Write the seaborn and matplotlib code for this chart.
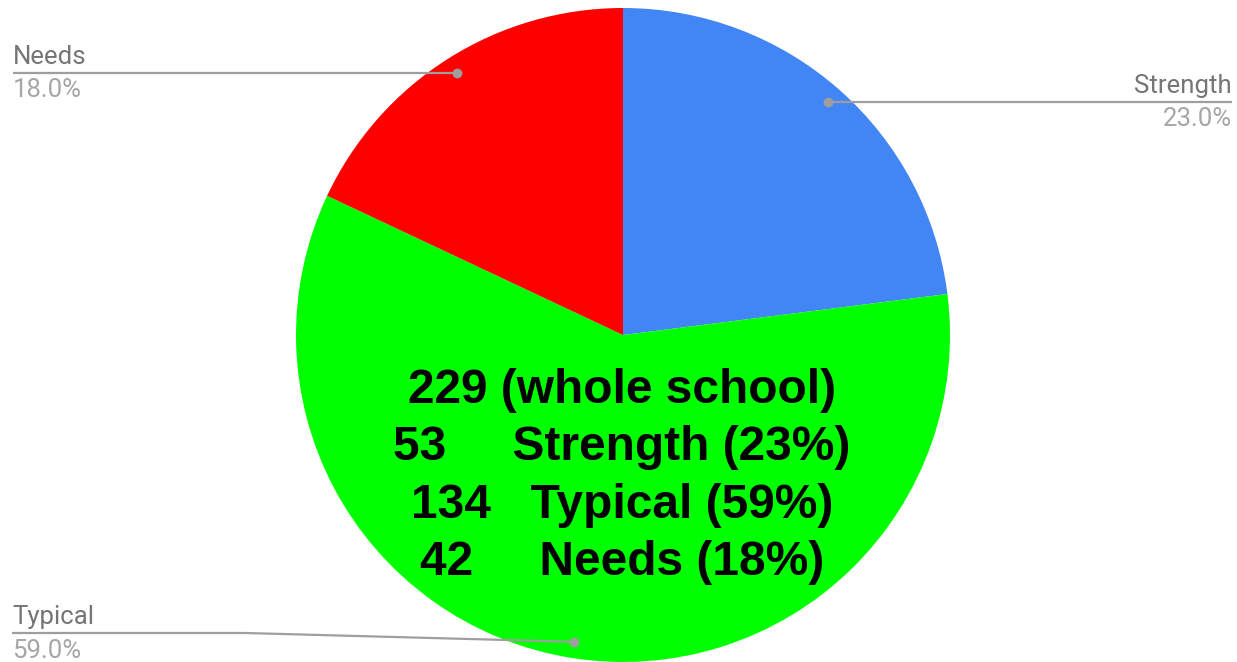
import numpy as np
import pandas as pd
import seaborn as sns
import matplotlib.pyplot as plt

categories = ['Strength', 'Typical', 'Needs']
shares = [23.0, 59.0, 18.0]
counts = [53, 134, 42]
colors = ['#4285F4', '#00FF00', '#FF0000']
gaps = ['     ', '   ', '     ']

sns.set_theme(style='white')
plt.rcParams['font.family'] = ['Roboto', 'DejaVu Sans']

W, H = 1237, 662
cx, cy, R = 623, H - 335, 327

fig = plt.figure(figsize=(W / 100, H / 100), dpi=100)
ax = fig.add_axes([0, 0, 1, 1])
wedges, _ = ax.pie(shares, colors=colors, startangle=90, counterclock=False,
                   center=(cx, cy), radius=R, wedgeprops=dict(linewidth=0))
ax.set_xlim(0, W)
ax.set_ylim(0, H)
ax.set_aspect('equal')
ax.axis('off')

# leader lines: (end x, line y in pixels from top, elbow x or None, alignment)
leaders = {
    'Strength': (1232, 101.5, None, 'right'),
    'Typical': (12, 633, 245, 'left'),
    'Needs': (13, 72.5, None, 'left'),
}
line_col = '#9e9e9e'
for w, name, pct in zip(wedges, categories, shares):
    ang = np.deg2rad((w.theta1 + w.theta2) / 2)
    dx = cx + 0.95 * R * np.cos(ang)
    dy = cy + 0.95 * R * np.sin(ang)
    end_x, ly, elbow, ha = leaders[name]
    ly = H - ly
    xs = [dx] + ([elbow] if elbow else []) + [end_x]
    ys = [dy] + ([ly] if elbow else []) + [ly]
    if elbow is None:
        ys = [ly, ly]
    ax.plot(xs, ys, color=line_col, lw=1.6, solid_capstyle='butt', zorder=3)
    ax.plot(dx, dy, 'o', color=line_col, ms=6, zorder=4)
    ax.text(end_x, ly + 9, name, ha=ha, va='baseline', fontsize=18.5, color='#757575')
    ax.text(end_x, ly - 24.5, f'{pct:.1f}%', ha=ha, va='baseline', fontsize=18.5, color='#a6a6a6')

# summary text block in the middle of the pie
summary = [f'{sum(counts)} (whole school)']
for c, name, pct, g in zip(counts, categories, shares, gaps):
    summary.append(f'{c}{g}{name} ({pct:.0f}%)')
baselines = [403, 460, 518, 575]
for txt, b in zip(summary, baselines):
    ax.text(622, H - b, txt, ha='center', va='baseline', fontsize=34.5,
            fontweight='bold', color='black', family=['Liberation Sans', 'DejaVu Sans'])

fig.savefig('out.png', dpi=100)
